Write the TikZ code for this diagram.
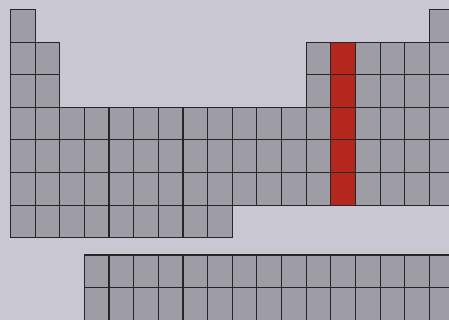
\documentclass[tikz,border=0pt]{standalone}
\definecolor{fundo}{HTML}{C9C8D2}
\definecolor{cinza}{HTML}{9E9DA6}
\definecolor{grupo}{HTML}{B5271D}
\tikzset{
  celula/.style={fill=cinza, draw=black!85, line width=0.8pt},
  destaque/.style={fill=grupo, draw=black!85, line width=0.8pt}
}
\begin{document}
\begin{tikzpicture}[line join=miter]

                \def\cw{0.616} % largura da celula
                \def\ch{0.815} % altura da celula
                \def\xo{0.2625} % canto esquerdo da tabela
                \def\yo{-0.2375} % topo da tabela
                \def\yl{-6.375} % topo do bloco de baixo

                % Fundo da figura
                \fill[fundo] (0,0) rectangle (11.225,-8);
                \clip (0,0) rectangle (11.225,-8);

                % 1. Periodo 1
                \foreach \c in {1,18}
                    \draw[celula] ({\xo+(\c-1)*\cw},\yo) rectangle ++(\cw,-\ch);

                % 2. Periodos 2 e 3
                \foreach \r in {2,3}
                    \foreach \c in {1,2,13,14,...,18}
                        \draw[celula] ({\xo+(\c-1)*\cw},{\yo-(\r-1)*\ch}) rectangle ++(\cw,-\ch);

                % 3. Periodos 4 a 6 (completos)
                \foreach \r in {4,5,6}
                    \foreach \c in {1,...,18}
                        \draw[celula] ({\xo+(\c-1)*\cw},{\yo-(\r-1)*\ch}) rectangle ++(\cw,-\ch);

                % 4. Periodo 7 (incompleto)
                \foreach \c in {1,...,9}
                    \draw[celula] ({\xo+(\c-1)*\cw},{\yo-6*\ch}) rectangle ++(\cw,-\ch);

                % 5. Grupo 14 em destaque
                \foreach \r in {2,...,6}
                    \draw[destaque] ({\xo+13*\cw},{\yo-(\r-1)*\ch}) rectangle ++(\cw,-\ch);

                % 6. Lantanideos e actinideos
                \foreach \r in {0,1}
                    \foreach \c in {4,...,18}
                        \draw[celula] ({\xo+(\c-1)*\cw},{\yl-\r*\ch}) rectangle ++(\cw,-\ch);

            \end{tikzpicture}
\end{document}
